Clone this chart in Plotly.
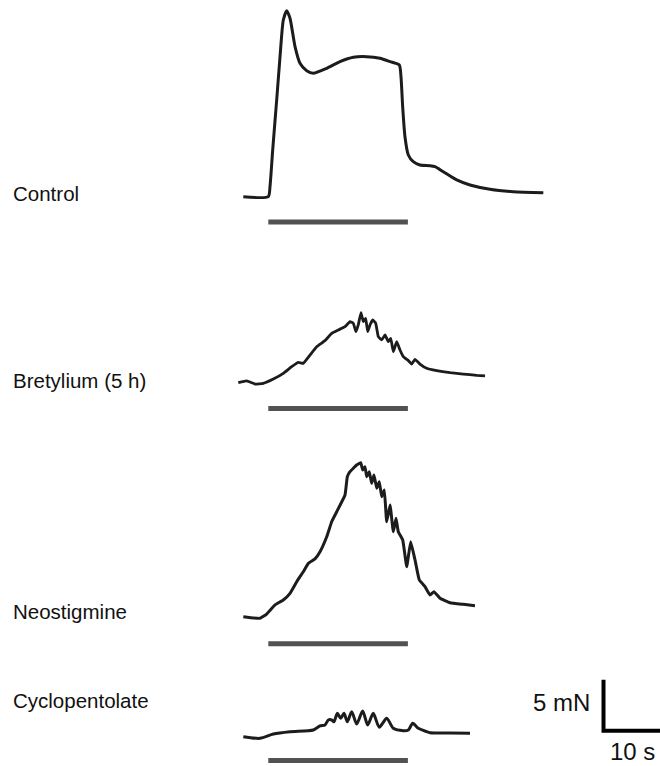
import plotly.graph_objects as go

# ---- data: time (s, stimulus onset = 0) and force (mN above baseline) ----
control_t = [-3.58, 0, 0.24, 0.63, 1.2, 1.68, 2.15, 2.64, 3.11, 3.83, 4.54, 5.5, 6.45, 8.37, 10.27,
             12.18, 14.1, 16.0, 17.44, 18.77, 19.01, 19.25, 19.58, 20.06, 20.77, 21.73, 23.17,
             23.88, 25.07, 26.99, 28.9, 31.76, 35.1, 39.4]
control_f = [0, 0, 0.98, 4.58, 9.48, 13.73, 17.32, 18.24, 17.49, 14.71, 13.08, 12.35, 12.1, 12.59,
             13.24, 13.67, 13.73, 13.57, 13.24, 12.91, 11.76, 8.82, 5.88, 4.09, 3.43, 3.11, 3.04,
             2.94, 2.45, 1.64, 1.15, 0.73, 0.49, 0.39]

bretylium_t = [-4.30, -3.09, -1.91, -0.72, 0.72, 2.15, 3.35, 4.30, 5.01, 5.97, 6.93, 8.12, 9.08,
               10.03, 10.99, 11.70, 12.18, 12.56, 12.89, 13.28, 13.61, 13.95, 14.24, 14.57, 14.96,
               15.39, 15.76, 16.25, 16.72, 17.19, 17.54, 17.91, 18.40, 18.87, 19.34, 20.06, 20.54,
               21.02, 21.73, 22.69, 24.13, 26.03, 27.94, 29.86, 31.05]
bretylium_f = [0.06, 0.23, -0.07, 0, 0.42, 0.98, 1.63, 2.06, 1.96, 2.77, 3.59, 4.18, 4.90, 5.23,
               5.55, 6.04, 5.88, 5.06, 5.72, 6.92, 6.04, 6.37, 5.06, 5.72, 6.21, 5.88, 4.57, 4.25,
               4.74, 4.08, 4.41, 3.10, 4.08, 3.26, 2.61, 2.22, 1.89, 2.35, 1.89, 1.47, 1.24, 1.04,
               0.91, 0.78, 0.72]

neostigmine_t = [-3.58, -1.19, -0.23, 0.96, 2.15, 3.11, 4.07, 5.01, 5.73, 6.69, 7.41, 8.37, 9.08,
                 9.80, 10.99, 11.32, 11.70, 12.18, 12.66, 13.24, 13.52, 13.85, 14.10, 14.47, 14.81,
                 15.14, 15.53, 15.90, 16.25, 16.62, 16.96, 17.44, 17.91, 18.30, 18.62, 19.26, 19.83,
                 20.40, 21.02, 21.63, 22.45, 23.17, 23.74, 24.60, 26.03, 27.94, 29.61]
neostigmine_f = [0.08, -0.08, 0.34, 1.23, 1.72, 2.37, 3.51, 4.49, 5.31, 5.74, 6.45, 7.92, 9.39,
                 10.37, 12.01, 13.80, 14.29, 14.63, 14.95, 15.18, 14.46, 14.78, 13.80, 14.29, 13.16,
                 13.97, 12.67, 13.31, 11.84, 12.50, 9.39, 11.03, 8.41, 9.73, 8.41, 7.60, 4.98, 7.43,
                 5.64, 3.68, 3.02, 2.21, 2.53, 1.88, 1.45, 1.29, 1.16]

cyclo_t = [-3.58, -1.19, 0.72, 3.11, 6.45, 7.41, 8.12, 8.60, 9.08, 9.41, 9.89, 10.37, 10.85, 11.32,
           11.95, 12.66, 13.52, 14.24, 15.04, 15.90, 16.96, 17.91, 19.34, 20.06, 20.69, 21.49,
           22.69, 23.17, 26.03, 28.90]
cyclo_f = [0.08, -0.08, 0.34, 0.57, 0.74, 1.13, 1.23, 1.72, 1.72, 1.55, 2.37, 1.88, 2.37, 1.55,
           2.53, 1.32, 2.60, 1.23, 2.37, 1.00, 1.88, 0.90, 0.67, 0.74, 1.39, 0.90, 0.57, 0.47,
           0.44, 0.41]

labels = ["Control", "Bretylium (5 h)", "Neostigmine", "Cyclopentolate"]
stim_t = [0, 20]          # stimulation period (s)
scale_t = 10              # s
scale_f = 5               # mN

# ---- layout constants ----
W, H = 660, 766
PX_PER_S, PX_PER_MN = 6.98, 10.2
X0_PX = 268.3
def px_x(p): return (p - X0_PX) / PX_PER_S
def px_y(p): return (H - p) / PX_PER_MN

baselines_px = [196.7, 383.3, 617.5, 737.5]
stimbar_px = [222.0, 408.5, 643.8, 760.5]
label_px = [192, 379, 610.5, 699]

series = [(control_t, control_f), (bretylium_t, bretylium_f),
          (neostigmine_t, neostigmine_f), (cyclo_t, cyclo_f)]
widths = [3.0, 2.8, 3.0, 3.0]
smooth = [0.6, 0.3, 0.3, 0.7]
FONT = "Liberation Sans, Arial, Helvetica"

fig = go.Figure()
for i, (t, f) in enumerate(series):
    off = px_y(baselines_px[i])
    fig.add_trace(go.Scatter(x=t, y=[v + off for v in f], mode="lines",
                             line=dict(color="#1c1c1c", width=widths[i], shape="spline",
                                       smoothing=smooth[i]),
                             hoverinfo="skip"))
    yb = px_y(stimbar_px[i])
    fig.add_trace(go.Scatter(x=stim_t, y=[yb, yb], mode="lines",
                             line=dict(color="#525252", width=5), hoverinfo="skip"))
    fig.add_annotation(x=11 / W, y=1 - (label_px[i] + 1) / H, xref="paper", yref="paper",
                       text=labels[i], showarrow=False, xanchor="left", yanchor="middle",
                       font=dict(family=FONT, size=20.5, color="#111111"))

# scale bar
cx, cy = px_x(603.5), px_y(730.8)
fig.add_trace(go.Scatter(x=[cx, cx, cx + scale_t], y=[cy + scale_f, cy, cy], mode="lines",
                         line=dict(color="#000000", width=4), hoverinfo="skip"))
fig.add_annotation(x=592 / W, y=1 - 702.5 / H, xref="paper", yref="paper",
                   text=f"{scale_f} mN", showarrow=False, xanchor="right", yanchor="middle",
                   font=dict(family=FONT, size=24, color="#111111"))
fig.add_annotation(x=609 / W, y=0, xref="paper", yref="paper",
                   text=f"{scale_t} s", showarrow=False, xanchor="left", yanchor="bottom",
                   borderpad=0,
                   font=dict(family=FONT, size=24, color="#111111"))

fig.update_layout(width=W, height=H, margin=dict(l=0, r=0, t=0, b=0),
                  paper_bgcolor="white", plot_bgcolor="white", showlegend=False,
                  xaxis=dict(range=[px_x(0), px_x(W)], visible=False, fixedrange=True),
                  yaxis=dict(range=[px_y(H), px_y(0)], visible=False, fixedrange=True))
fig.write_html("out.html", config={"displayModeBar": False})
